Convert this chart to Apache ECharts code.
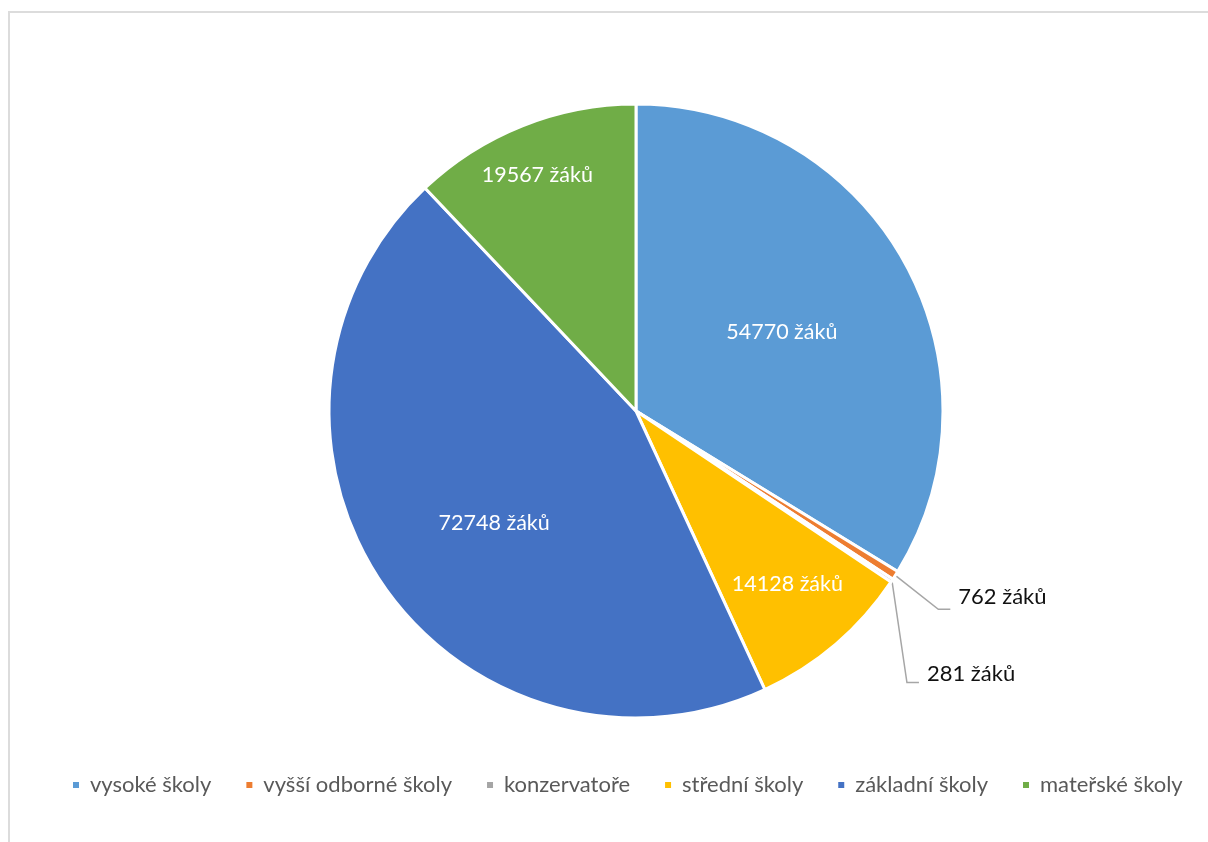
<!DOCTYPE html>
<html>
<head>
<meta charset="utf-8">
<script src="https://cdn.jsdelivr.net/npm/echarts@6/dist/echarts.min.js"></script>
<style>
  html, body { margin: 0; padding: 0; background: #ffffff; }
  #chart { position: absolute; left: 0; top: 0; width: 1208px; height: 842px; }
  #frame { position: absolute; left: 8px; top: 11px; width: 1400px; height: 1000px;
           border-left: 2px solid #dcdcdc; border-top: 2px solid #dcdcdc; pointer-events: none; }
</style>
</head>
<body>
<div id="chart"></div>
<div id="frame"></div>
<script>
// ---- data ----
const categories = ['vysoké školy', 'vyšší odborné školy', 'konzervatoře', 'střední školy', 'základní školy', 'mateřské školy'];
const values = [54770, 762, 281, 14128, 72748, 19567];
const colors = ['#5B9BD5', '#ED7D31', '#A5A5A5', '#FFC000', '#4472C4', '#70AD47'];
const unit = 'žáků';

// ---- layout settings ----
const CENTER = [636, 411];
const RADIUS = 307;
const FONT = 'Lato, "Noto Sans", sans-serif';
// radial distance (and small nudge) of the inside label for each big slice
const insideLabels = {
  0: { r: 166, dx: 1, dy: 2 },
  4: { r: 181, dx: 8, dy: 11 },
  3: { r: 230, dx: 2, dy: -2 },
  5: { r: 256, dx: -4, dy: 2 }
};
// leader-line offsets (from slice edge) for the small outside labels
const outsideLines = {
  1: { bend: [43, 34], end: [55, 34], textDy: -12 },
  2: { bend: [15, 102], end: [27, 102], textDy: -9 }
};

const fmt = p => p.value + ' ' + unit;

const mainData = values.map((v, i) => ({
  value: v,
  name: categories[i],
  itemStyle: { color: colors[i] },
  label: { show: outsideLines[i] !== undefined }
}));

const series = [{
  type: 'pie',
  center: CENTER,
  radius: [0, RADIUS],
  startAngle: 90,
  clockwise: true,
  avoidLabelOverlap: false,
  silent: true,
  itemStyle: { borderColor: '#ffffff', borderWidth: 3 },
  label: {
    position: 'outside',
    formatter: fmt,
    color: '#111111',
    fontFamily: FONT,
    fontSize: 22
  },
  labelLine: { show: true, length: 40, length2: 12, lineStyle: { color: '#a6a6a6', width: 1.5 } },
  labelLayout: function (params) {
    const cfg = outsideLines[params.dataIndex];
    if (!cfg || !params.labelLinePoints) return {};
    const p0 = params.labelLinePoints[0];
    const p1 = [p0[0] + cfg.bend[0], p0[1] + cfg.bend[1]];
    const p2 = [p0[0] + cfg.end[0], p0[1] + cfg.end[1]];
    return {
      x: p2[0] + 8,
      y: p2[1] + cfg.textDy,
      align: 'left',
      verticalAlign: 'middle',
      labelLinePoints: [p0, p1, p2]
    };
  },
  data: mainData
}];

// transparent overlay series only used to place the inside labels at custom radii
Object.keys(insideLabels).forEach(k => {
  const idx = +k;
  const cfg = insideLabels[k];
  series.push({
    type: 'pie',
    center: CENTER,
    radius: [cfg.r - 13, cfg.r + 7],
    startAngle: 90,
    clockwise: true,
    avoidLabelOverlap: false,
    silent: true,
    legendHoverLink: false,
    itemStyle: { color: 'rgba(0,0,0,0)', borderWidth: 0 },
    label: {
      position: 'inside',
      formatter: fmt,
      color: '#ffffff',
      fontFamily: FONT,
      fontSize: 21.5
    },
    labelLine: { show: false },
    labelLayout: function () { return { dx: cfg.dx, dy: cfg.dy }; },
    data: values.map((v, i) => ({
      value: v,
      name: categories[i],
      label: { show: i === idx }
    }))
  });
});

const chart = echarts.init(document.getElementById('chart'), null, { renderer: 'canvas' });
chart.setOption({
  animation: false,
  backgroundColor: '#ffffff',
  legend: {
    data: categories.map((n, i) => ({ name: n, itemStyle: { color: colors[i] } })),
    left: 66,
    top: 769,
    width: 1142,
    icon: 'rect',
    itemWidth: 8,
    itemHeight: 8,
    itemGap: 33,
    selectedMode: false,
    textStyle: { color: '#595959', fontFamily: FONT, fontSize: 22, padding: [0, 0, 0, 5] }
  },
  series: series
});
</script>
</body>
</html>
